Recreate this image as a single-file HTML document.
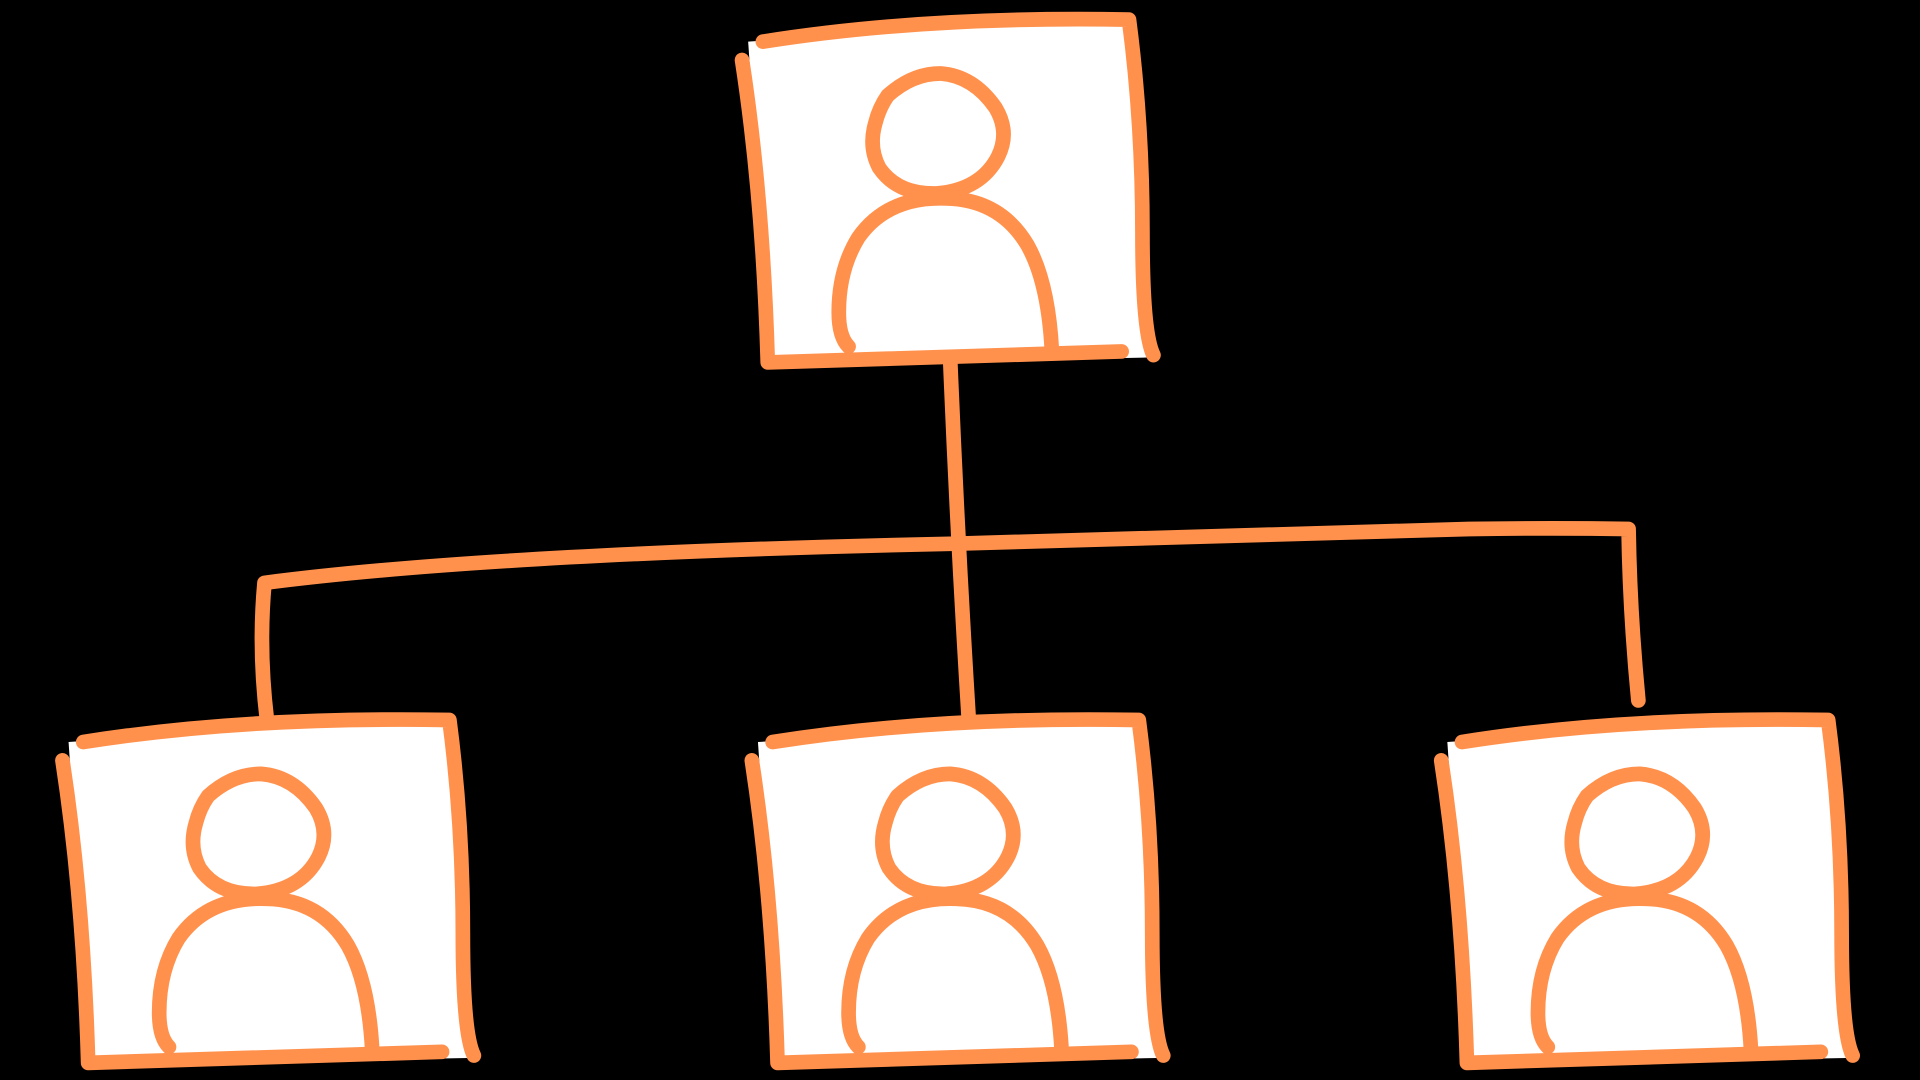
<!DOCTYPE html>
<html><head><meta charset="utf-8"><style>
html,body{margin:0;padding:0;background:#000;width:1920px;height:1080px;overflow:hidden}
svg{display:block}
</style></head><body>
<svg width="1920" height="1080" viewBox="0 0 1568 882" xmlns="http://www.w3.org/2000/svg">
<defs>
<g id="card">
  <polygon points="6,24 320,2 332,282 24,288" fill="#fff"/>
  <g fill="none" stroke="#FF914D" stroke-width="12" stroke-linecap="round" stroke-linejoin="round">
    <path d="M18,24 Q150,3 317,6 Q328,90 328,180 Q328,262 337,280"/>
    <path d="M1,39 Q18,150 22,286 L311,277"/>
    <path d="M120,68 Q140,50 163,50 Q190,52 208,78 Q220,98 210,118 Q196,145 160,148 Q128,149 113,127 Q104,110 110,90 Q113,78 120,68 Z"/>
    <path d="M88,273 Q80,265 80,245 Q80,210 96,184 Q120,150 168,152 Q212,153 234,190 Q251,220 254,276"/>
  </g>
</g>
</defs>
<rect width="1568" height="882" fill="#000"/>
<g fill="none" stroke="#FF914D" stroke-width="12" stroke-linecap="round" stroke-linejoin="round">
  <path d="M776,294 Q782,440 791,585"/>
  <path d="M218,588 Q211,530 216,476 Q400,452 780,444 L1200,432 Q1270,431 1330,432 Q1331,500 1338,572"/>
</g>
<use href="#card" x="605" y="10"/>
<use href="#card" x="50" y="582"/>
<use href="#card" x="613" y="582"/>
<use href="#card" x="1176" y="582"/>
</svg>
</body></html>
